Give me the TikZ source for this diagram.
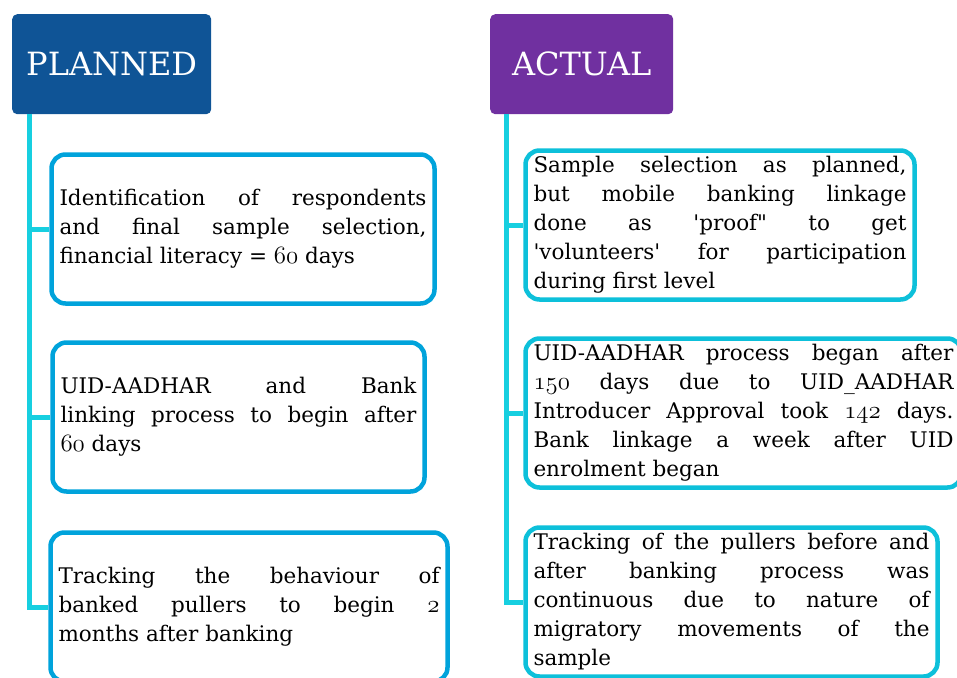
\documentclass[tikz,border=0pt]{standalone}
\usepackage{fontspec}
\setmainfont{DejaVu Serif}
\usetikzlibrary{positioning}

\definecolor{plannedblue}{HTML}{0F5496}
\definecolor{actualpurple}{HTML}{7030A0}
\definecolor{trunkcyan}{HTML}{17CFE0}
\definecolor{leftedge}{HTML}{00A3DB}
\definecolor{rightedge}{HTML}{0DC0DA}

% old style figures
\newcommand\osnum[1]{{\fontsize{25.5}{29}\usefont{OML}{cmm}{m}{it}#1}}

\tikzset{
  header/.style={fill=#1, rounded corners=5pt, text=white, anchor=north west,
    inner sep=0pt, minimum height=100pt, font=\fontsize{32}{34}\selectfont},
  stepbox/.style={draw=#1, line width=4.5pt, rounded corners=14pt, align=justify,
    inner xsep=8pt, inner ysep=0pt, minimum height=149pt,
    font=\fontsize{21.5}{29}\selectfont},
  trunk/.style={draw=trunkcyan, line width=5pt}
}

\begin{document}
\begin{tikzpicture}[x=1pt,y=-1pt]
\useasboundingbox (0,0) rectangle (957,677);
\clip (0,0) rectangle (957,677);

% headers
\node[header=plannedblue, minimum width=199pt] (hplan) at (12,14) {PLANNED};
\node[header=actualpurple, minimum width=183pt] (hact) at (490,14) {ACTUAL};

% planned column
\node[stepbox=leftedge, text width=367pt] (plan1) at (243,229)
  {Identification of respondents\linebreak and final sample selection,\linebreak financial literacy = \osnum{60} days};
\node[stepbox=leftedge, text width=356pt] (plan2) at (238.5,417)
  {UID-AADHAR and Bank\linebreak linking process to begin after\linebreak \osnum{60} days};
\node[stepbox=leftedge, text width=381pt] (plan3) at (249,607)
  {Tracking the behaviour of\linebreak banked pullers to begin \osnum{2}\linebreak months after banking};

% actual column
\node[stepbox=rightedge, text width=373pt] (act1) at (720,225)
  {Sample selection as planned,\linebreak but mobile banking linkage\linebreak done as \textquotesingle proof\textquotedbl{} to get\linebreak \textquotesingle volunteers\textquotesingle{} for participation\linebreak during first level};
\node[stepbox=rightedge, text width=420pt] (act2) at (743.5,413)
  {UID-AADHAR process began after\linebreak \osnum{150} days due to UID\_AADHAR\linebreak Introducer Approval took \osnum{142} days.\linebreak Bank linkage a week after UID\linebreak enrolment began};
\node[stepbox=rightedge, text width=396pt] (act3) at (731.5,602)
  {Tracking of the pullers before and\linebreak after banking process was\linebreak continuous due to nature of\linebreak migratory movements of the\linebreak sample};

% trunks and branches
\coordinate (ltop) at ([xshift=17pt]hplan.south west);
\coordinate (rtop) at ([xshift=16pt]hact.south west);

\draw[trunk] (ltop) |- (plan3.west);
\draw[trunk] (plan1.west -| ltop) -- (plan1.west);
\draw[trunk] (plan2.west -| ltop) -- (plan2.west);

\draw[trunk] (rtop) |- (act3.west);
\draw[trunk] (act1.west -| rtop) -- (act1.west);
\draw[trunk] (act2.west -| rtop) -- (act2.west);
\end{tikzpicture}
\end{document}
